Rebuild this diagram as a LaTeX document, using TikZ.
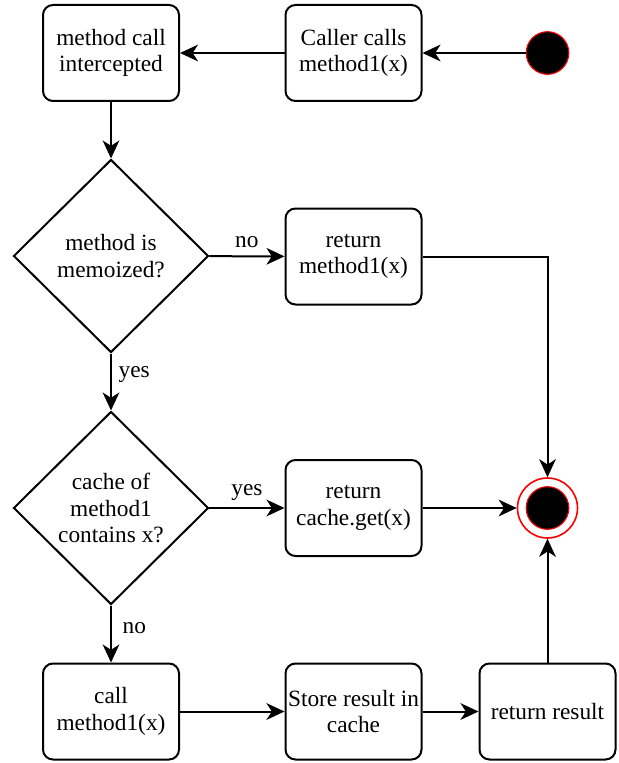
\documentclass[tikz,border=0pt]{standalone}
\usepackage{fontspec}
\setmainfont{Liberation Serif}
\newfontfamily\diagfont{Liberation Serif}
\usetikzlibrary{shapes.geometric,arrows.meta}

\begin{document}
\begin{tikzpicture}[x=0.75pt,y=-0.75pt,
    font=\diagfont\fontsize{17.5}{20}\selectfont,
    line width=1.5pt,
    box/.style={draw, rounded corners=7.5pt, minimum width=102pt,
        minimum height=72pt, align=center, inner sep=0pt},
    decision/.style={draw, diamond, minimum width=146.25pt,
        minimum height=144.75pt, align=center, inner sep=0pt},
    startstate/.style={circle, draw=red, fill=black, minimum size=32pt,
        inner sep=0pt, line width=0.8pt},
    endstate/.style={circle, draw=red, fill=white, minimum size=45pt,
        inner sep=0pt, line width=1.2pt,
        path picture={\draw[red, fill=black, line width=0.8pt]
            (path picture bounding box.center) circle[radius=16pt];}},
    flow/.style={-{Stealth[length=13.5pt,width=12.5pt,inset=4pt]}},
    guard/.style={inner sep=3pt}]
    \useasboundingbox (0,0) rectangle (618,763);
    %% Entry
    \node[startstate] (start) at (547.5,53) {};
    \node[box] (caller) at (353.5,53) {Caller calls\\method1(x)};
    \node[box] (intercept) at (111,53) {method call\\intercepted};
    %% Decisions
    \node[decision] (memo) at (111,256) {method is\\memoized?};
    \node[box] (retcall) at (353.5,256.5) {return\\method1(x)};
    \node[decision] (cached) at (111,508) {cache of\\method1\\contains x?};
    \node[box] (retcache) at (353.5,508) {return\\cache.get(x)};
    \node[endstate] (done) at (547.5,508) {};
    %% Cache miss
    \node[box] (callm) at (111,711.5) {call\\method1(x)};
    \node[box] (store) at (353.5,711.5) {Store result in\\cache};
    \node[box] (retres) at (547.5,711.5) {return result};
    %% Connectors
    \draw[flow] (start) -- (caller);
    \draw[flow] (caller) -- (intercept);
    \draw[flow] (intercept) -- (memo);
    \draw[flow] (memo) -- (retcall)
        node[guard, midway, above=3pt] {no};
    \draw[flow] (retcall.east) -| (done.north);
    \draw[flow] (memo) -- (cached)
        node[guard, pos=0.37, anchor=west, xshift=2pt] {yes};
    \draw[flow] (cached) -- (retcache)
        node[guard, midway, above=2pt] {yes};
    \draw[flow] (retcache) -- (done);
    \draw[flow] (cached) -- (callm)
        node[guard, pos=0.39, anchor=west, xshift=5pt] {no};
    \draw[flow] (callm) -- (store);
    \draw[flow] (store) -- (retres);
    \draw[flow] (retres) -- (done);
\end{tikzpicture}
\end{document}
